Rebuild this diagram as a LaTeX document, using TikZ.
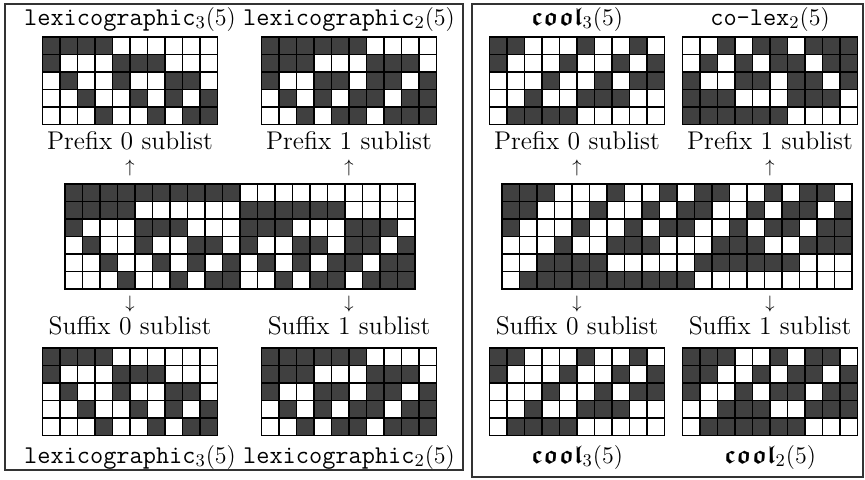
\documentclass[tikz,border=0pt]{standalone}
\usepackage{amsmath,amsfonts}
\usetikzlibrary{positioning}

\definecolor{cellon}{HTML}{404040}

% one grid of bits: left, top, list of rows
\newcommand{\bitgrid}[3]{%
  \foreach \row [count=\ri] in #3 {
    \foreach \bit [count=\ci] in \row {
      \ifnum\bit=1 \def\cellcol{cellon}\else\def\cellcol{white}\fi
      \draw[cell, fill=\cellcol] ({#1+(\ci-1)*17.5}, {#2+(\ri-1)*17.5}) rectangle ++(17.5,17.5);
    }
  }
}

% row patterns
\def\lexbig{{1,1,1,1,1,1,1,1,1,1,0,0,0,0,0,0,0,0,0,0},
  {1,1,1,1,0,0,0,0,0,0,1,1,1,1,1,1,0,0,0,0},
  {1,0,0,0,1,1,1,0,0,0,1,1,1,0,0,0,1,1,1,0},
  {0,1,0,0,1,0,0,1,1,0,1,0,0,1,1,0,1,1,0,1},
  {0,0,1,0,0,1,0,1,0,1,0,1,0,1,0,1,1,0,1,1},
  {0,0,0,1,0,0,1,0,1,1,0,0,1,0,1,1,0,1,1,1}}
\def\lextwo{{1,1,1,1,0,0,0,0,0,0},
  {1,0,0,0,1,1,1,0,0,0},
  {0,1,0,0,1,0,0,1,1,0},
  {0,0,1,0,0,1,0,1,0,1},
  {0,0,0,1,0,0,1,0,1,1}}
\def\lexthree{{1,1,1,1,1,1,0,0,0,0},
  {1,1,1,0,0,0,1,1,1,0},
  {1,0,0,1,1,0,1,1,0,1},
  {0,1,0,1,0,1,1,0,1,1},
  {0,0,1,0,1,1,0,1,1,1}}
\def\coolbig{{1,1,1,0,0,0,1,0,0,1,0,1,1,0,0,1,0,1,1,0},
  {1,1,0,0,0,1,0,0,1,0,1,1,0,0,1,0,1,1,0,1},
  {1,0,0,0,1,0,0,1,0,1,1,0,0,1,0,1,1,0,1,1},
  {0,0,0,1,0,0,1,1,1,0,0,0,1,1,1,0,0,1,1,1},
  {0,0,1,1,1,1,0,0,0,0,0,1,1,1,1,1,1,0,0,0},
  {0,1,1,1,1,1,1,1,1,1,1,0,0,0,0,0,0,0,0,0}}
\def\coolthree{{1,1,0,0,0,1,0,0,1,0},
  {1,0,0,0,1,0,0,1,0,1},
  {0,0,0,1,0,0,1,0,1,1},
  {0,0,1,0,0,1,1,1,0,0},
  {0,1,1,1,1,0,0,0,0,0}}
\def\colextwo{{0,0,1,0,1,1,0,1,1,1},
  {0,1,0,1,0,1,1,0,1,1},
  {1,0,0,1,1,0,1,1,0,1},
  {1,1,1,0,0,0,1,1,1,0},
  {1,1,1,1,1,1,0,0,0,0}}
\def\cooltwo{{1,1,1,0,0,1,0,1,1,0},
  {1,1,0,0,1,0,1,1,0,1},
  {1,0,0,1,0,1,1,0,1,1},
  {0,0,1,1,1,0,0,1,1,1},
  {0,1,1,1,1,1,1,0,0,0}}

\newcommand{\coolname}{\boldsymbol{\mathfrak{cool}}}

\begin{document}
\begin{tikzpicture}[
    x=0.5pt, y=-0.5pt,
    cell/.style={draw=black, line width=0.7pt},
    frame/.style={draw=black!80, line width=0.6pt},
    lab/.style={font=\fontsize{12.8}{15}\selectfont, anchor=base, inner sep=0pt},
    arr/.style={font=\fontsize{9}{10}\selectfont, inner sep=0pt}
]
    \useasboundingbox (0,0) rectangle (865,479);

    % Panel frames
    \draw[frame] (5,4) rectangle (463,470);
    \draw[frame] (472,4) rectangle (863,477);

    % Left panel: lexicographic
    \bitgrid{42.5}{37}{\lextwo}
    \bitgrid{261.5}{37}{\lexthree}
    \bitgrid{65}{184}{\lexbig}
    \bitgrid{42.5}{348}{\lextwo}
    \bitgrid{261.5}{348}{\lexthree}

    \node[lab] (lexTL) at (130,25) {\texttt{lexicographic}$_3(5)$};
    \node[lab] (lexTR) at (349,25) {\texttt{lexicographic}$_2(5)$};
    \node[lab] (preL0) at (130,149) {Prefix 0 sublist};
    \node[lab] (preL1) at (349,149) {Prefix 1 sublist};
    \node[arr] (upL0) at (130,168) {$\uparrow$};
    \node[arr] (upL1) at (349,168) {$\uparrow$};
    \node[arr] (dnL0) at (130,304) {$\downarrow$};
    \node[arr] (dnL1) at (349,304) {$\downarrow$};
    \node[lab] (sufL0) at (130,334) {Suffix 0 sublist};
    \node[lab] (sufL1) at (349,334) {Suffix 1 sublist};
    \node[lab] (lexBL) at (130,463) {\texttt{lexicographic}$_3(5)$};
    \node[lab] (lexBR) at (349,463) {\texttt{lexicographic}$_2(5)$};

    % Right panel: cool-lex
    \bitgrid{489.5}{37}{\coolthree}
    \bitgrid{682.5}{37}{\colextwo}
    \bitgrid{502}{184}{\coolbig}
    \bitgrid{489.5}{348}{\coolthree}
    \bitgrid{682.5}{348}{\cooltwo}

    \node[lab] (coolTL) at (577,25) {$\coolname_3(5)$};
    \node[lab] (colexTR) at (770,25) {\texttt{co-lex}$_2(5)$};
    \node[lab] (preR0) at (577,149) {Prefix 0 sublist};
    \node[lab] (preR1) at (770,149) {Prefix 1 sublist};
    \node[arr] (upR0) at (577,168) {$\uparrow$};
    \node[arr] (upR1) at (770,168) {$\uparrow$};
    \node[arr] (dnR0) at (577,304) {$\downarrow$};
    \node[arr] (dnR1) at (770,304) {$\downarrow$};
    \node[lab] (sufR0) at (577,334) {Suffix 0 sublist};
    \node[lab] (sufR1) at (770,334) {Suffix 1 sublist};
    \node[lab] (coolBL) at (577,463) {$\coolname_3(5)$};
    \node[lab] (coolBR) at (770,463) {$\coolname_2(5)$};

\end{tikzpicture}
\end{document}
